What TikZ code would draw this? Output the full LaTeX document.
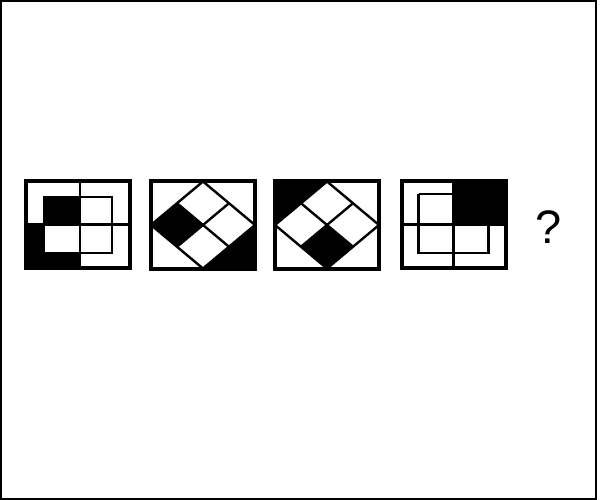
\documentclass[tikz,border=0pt]{standalone}
\usepackage{fontspec}
\setmainfont{Liberation Sans}
\begin{document}
\begin{tikzpicture}[x=1pt,y=-1pt,
  frame/.style={draw=black,line width=2pt},
  panelbox/.style={draw=black,line width=4pt},
  thin/.style={draw=black,line width=2.4pt},
  blk/.style={fill=black},
  wht/.style={fill=white}]
\useasboundingbox (0,0) rectangle (600,500);
\fill[white] (0,0) rectangle (600,500);
\draw[frame] (1,1) rectangle (596,499);

% Panel 1
\begin{scope}[shift={(26,181)}]
  \fill[blk] (0,43.5) rectangle (54,87);
  \fill[wht] (18,16) rectangle (86,72);
  \fill[blk] (18,16) rectangle (54,44);
  \draw[thin] (54,0) -- (54,87);
  \draw[thin] (0,43.5) -- (104,43.5);
  \draw[thin] (18,16) rectangle (86,72);
  \draw[panelbox] (0,0) rectangle (104,87);
\end{scope}

% Panel 2
\begin{scope}[shift={(151,181.5)}]
  \coordinate (T2) at (52,0);
  \coordinate (R2) at (104,43.5);
  \coordinate (B2) at (52,87);
  \coordinate (L2) at (0,43.5);
  \fill[blk] (L2) -- (26,21.75) -- (52,43.5) -- (26,65.25) -- cycle;
  \fill[blk] (R2) -- (104,87) -- (B2) -- cycle;
  \draw[thin] (T2) -- (R2) -- (B2) -- (L2) -- cycle;
  \draw[thin] (26,21.75) -- (78,65.25);
  \draw[thin] (78,21.75) -- (26,65.25);
  \draw[panelbox] (0,0) rectangle (104,87);
\end{scope}

% Panel 3
\begin{scope}[shift={(275,181.5)}]
  \coordinate (T3) at (52,0);
  \coordinate (R3) at (104,43.5);
  \coordinate (B3) at (52,87);
  \coordinate (L3) at (0,43.5);
  \fill[blk] (0,0) -- (T3) -- (L3) -- cycle;
  \fill[blk] (52,43.5) -- (78,65.25) -- (B3) -- (26,65.25) -- cycle;
  \draw[thin] (T3) -- (R3) -- (B3) -- (L3) -- cycle;
  \draw[thin] (26,21.75) -- (78,65.25);
  \draw[thin] (78,21.75) -- (26,65.25);
  \draw[panelbox] (0,0) rectangle (104,87);
\end{scope}

% Panel 4
\begin{scope}[shift={(401.5,181)}]
  \fill[blk] (52,0) rectangle (104,43.5);
  \fill[wht] (17,13) rectangle (87,72);
  \fill[blk] (52,13) rectangle (87,44);
  \draw[thin] (52,0) -- (52,87);
  \draw[thin] (0,43.5) -- (104,43.5);
  \draw[thin] (17,13) -- (17,72) -- (87,72) -- (87,44);
  \draw[thin] (17,13) -- (52,13);
  \draw[panelbox] (0,0) rectangle (104,87);
\end{scope}

\node[font=\fontsize{47}{47}\selectfont,inner sep=0pt] (q) at (549,227) {?};
\end{tikzpicture}
\end{document}
